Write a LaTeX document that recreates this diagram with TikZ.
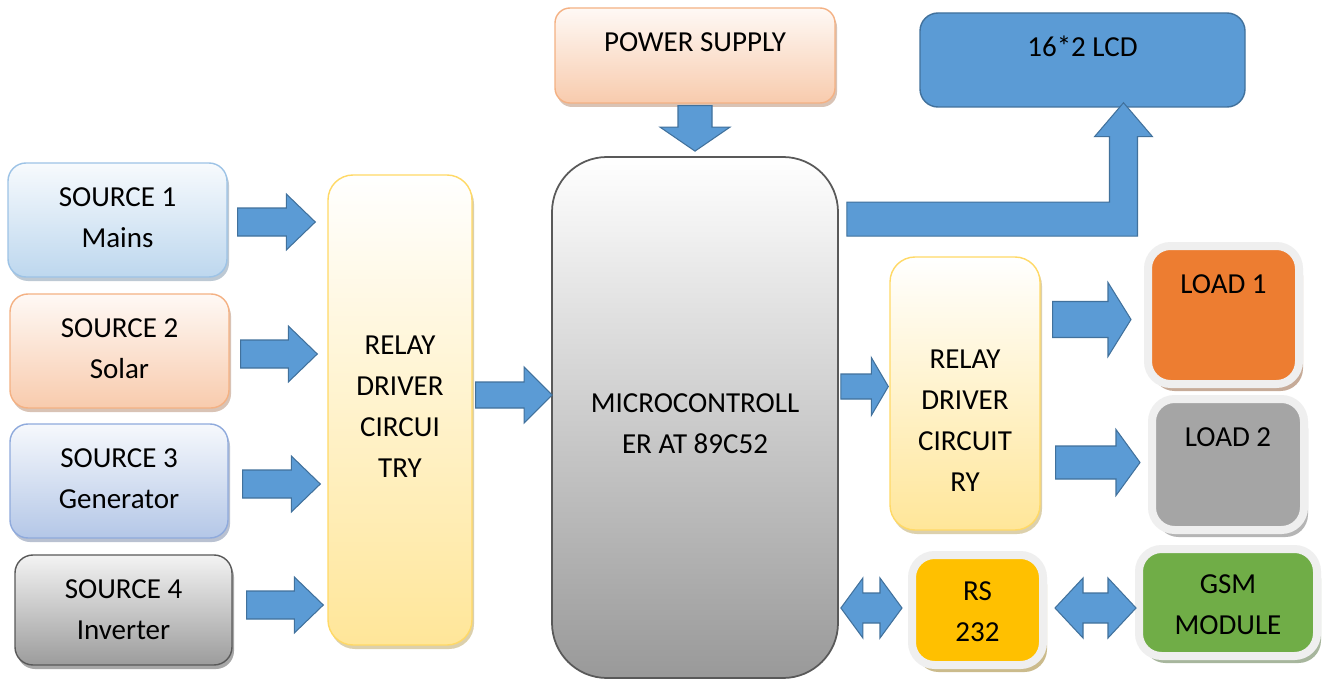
\documentclass[tikz,border=0pt]{standalone}
\usepackage{fontspec}
\setmainfont{Carlito}
\usepackage{tikz}
\usetikzlibrary{positioning, calc, fit, shadows}
\definecolor{arrowfill}{HTML}{5B9BD5}
\definecolor{arrowline}{HTML}{41719C}
\definecolor{mainsblue}{HTML}{BDD7EE}
\definecolor{mainsline}{HTML}{9DC3E6}
\definecolor{solarpeach}{HTML}{F8CBAD}
\definecolor{solarline}{HTML}{F4B183}
\definecolor{genblue}{HTML}{B4C7E7}
\definecolor{genline}{HTML}{8FAADC}
\definecolor{invgray}{HTML}{9C9C9C}
\definecolor{darkline}{HTML}{595959}
\definecolor{relayyellow}{HTML}{FFE699}
\definecolor{relayline}{HTML}{FFD966}
\definecolor{loadorange}{HTML}{ED7D31}
\definecolor{loadgray}{HTML}{A5A5A5}
\definecolor{rsgold}{HTML}{FFC000}
\definecolor{gsmgreen}{HTML}{70AD47}
\definecolor{framegray}{HTML}{EFEFEF}

\newcommand{\pxu}{0.02cm}
\newcommand{\boxfont}{\fontsize{16.5}{23.3}\selectfont}

\tikzset{
  srcbox/.style 2 args={draw=#2, line width=0.8pt, rounded corners=0.36cm, inner sep=0pt,
    top color=#1!12, bottom color=#1,
    drop shadow={shadow xshift=0.04cm, shadow yshift=-0.08cm, fill=#2!70!black, opacity=0.45}},
  relaybox/.style={draw=relayline, line width=0.8pt, rounded corners=0.5cm, inner sep=0pt,
    top color=white, bottom color=relayyellow,
    drop shadow={shadow xshift=0.04cm, shadow yshift=-0.08cm, fill=relayline!70!black, opacity=0.45}},
  mcubox/.style={draw=darkline, line width=1pt, rounded corners=1.1cm, inner sep=0pt,
    top color=white, bottom color=black!40},
  lcdbox/.style={draw=arrowline, line width=0.8pt, fill=arrowfill, rounded corners=0.36cm, inner sep=0pt},
  framebox/.style={draw=framegray, line width=0.16cm, fill=#1, rounded corners=0.45cm, inner sep=0pt,
    drop shadow={shadow xshift=0.08cm, shadow yshift=-0.14cm, fill=#1!55!black, opacity=0.45}},
  blockarrow/.style={draw=arrowline, fill=arrowfill, line width=0.6pt, line join=miter},
}

% block arrows: start, tip, body half, head half, head length (in px)
\newcommand{\blockright}[5]{%
  \draw[blockarrow] let \p1=(#1), \p2=(#2) in
    (\x1,\y1+#3*\pxu) -- (\x2-#5*\pxu,\y1+#3*\pxu) -- (\x2-#5*\pxu,\y1+#4*\pxu)
    -- (\x2,\y1) -- (\x2-#5*\pxu,\y1-#4*\pxu) -- (\x2-#5*\pxu,\y1-#3*\pxu)
    -- (\x1,\y1-#3*\pxu) -- cycle;}
\newcommand{\blockdown}[5]{%
  \draw[blockarrow] let \p1=(#1), \p2=(#2) in
    (\x1-#3*\pxu,\y1) -- (\x1-#3*\pxu,\y2+#5*\pxu) -- (\x1-#4*\pxu,\y2+#5*\pxu)
    -- (\x1,\y2) -- (\x1+#4*\pxu,\y2+#5*\pxu) -- (\x1+#3*\pxu,\y2+#5*\pxu)
    -- (\x1+#3*\pxu,\y1) -- cycle;}
\newcommand{\blockboth}[5]{%
  \draw[blockarrow] let \p1=(#1), \p2=(#2) in
    (\x1,\y1) -- (\x1+#5*\pxu,\y1+#4*\pxu) -- (\x1+#5*\pxu,\y1+#3*\pxu)
    -- (\x2-#5*\pxu,\y1+#3*\pxu) -- (\x2-#5*\pxu,\y1+#4*\pxu) -- (\x2,\y1)
    -- (\x2-#5*\pxu,\y1-#4*\pxu) -- (\x2-#5*\pxu,\y1-#3*\pxu)
    -- (\x1+#5*\pxu,\y1-#3*\pxu) -- (\x1+#5*\pxu,\y1-#4*\pxu) -- cycle;}

\begin{document}
\begin{tikzpicture}[x=0.02cm, y=-0.02cm,
    every node/.style={font=\boxfont, align=center},
  ]
  \useasboundingbox (0,0) rectangle (1322,679);
  \clip (0,0) rectangle (1322,679);
  \fill[white] (0,0) rectangle (1322,679);

  % sources
  \node[srcbox={mainsblue}{mainsline}, fit={(8,163) (227,277)}] (src1) {};
  \node[srcbox={solarpeach}{solarline}, fit={(10,294) (229,408)}] (src2) {};
  \node[srcbox={genblue}{genline}, fit={(10,424) (228,538)}] (src3) {};
  \node[srcbox={invgray}{darkline}, fit={(15,555) (232,665)}] (src4) {};
  \node (src1txt) at ($(src1.center)+(0,-2)$) {SOURCE 1\\Mains};
  \node (src2txt) at ($(src2.center)+(0,-2)$) {SOURCE 2\\Solar};
  \node (src3txt) at ($(src3.center)+(0,-2)$) {SOURCE 3\\Generator};
  \node (src4txt) at (src4.center) {SOURCE 4\\Inverter};

  % relay drivers and controller
  \node[relaybox, fit={(328,175) (472,645)}] (relay1) {};
  \node (relay1txt) at ($(relay1.center)+(0,-3)$) {RELAY\\DRIVER\\CIRCUI\\TRY};
  \node[mcubox, fit={(552,157) (838,678)}] (mcu) {};
  \node (mcutxt) at ($(mcu.center)+(0,6)$) {MICROCONTROLL\\ER AT 89C52};
  \node[relaybox, fit={(890,257) (1040,530)}] (relay2) {};
  \node (relay2txt) at ($(relay2.center)+(0,27)$) {RELAY\\DRIVER\\CIRCUIT\\RY};

  % top row
  \node[srcbox={solarpeach}{solarline}, rounded corners=0.3cm, fit={(555,8) (835,103)}] (power) {};
  \node (powertxt) at ($(power.north)+(0,35)$) {POWER SUPPLY};
  \node[lcdbox, fit={(920,13) (1245,107)}] (lcd) {};
  \node (lcdtxt) at ($(lcd.north)+(0,34)$) {16*2 LCD};

  % outputs
  \node[framebox=loadorange, fit={(1148,246) (1299,384)}] (load1) {};
  \node (load1txt) at ($(load1.north)+(0,42)$) {LOAD 1};
  \node[framebox=loadgray, fit={(1152,399) (1304,530)}] (load2) {};
  \node (load2txt) at ($(load2.north)+(0,42)$) {LOAD 2};
  \node[framebox=rsgold, fit={(912,555) (1043,665)}] (rs) {};
  \node (rstxt) at ($(rs.center)+(0,2)$) {RS\\232};
  \node[framebox=gsmgreen, fit={(1139,549) (1317,656)}] (gsm) {};
  \node (gsmtxt) at ($(gsm.center)+(0,2.5)$) {GSM\\MODULE};

  % arrows
  \foreach \i/\dy/\sx/\tx in {1/2/10/-12, 2/3/11/-10, 3/3/14/-7, 4/-5/14/-4}
    {\blockright{$(src\i.east)+(\sx,\dy)$}{$(relay1.west)+(\tx,0)$}{14}{28}{29}}
  \blockright{$(relay1.east)+(3,-15)$}{$(mcu.west)+(1,0)$}{13}{28}{28}
  \blockright{$(mcu.east)+(2,-31)$}{$(relay2.west)+(-1,0)$}{12.5}{29}{17}
  \blockright{$(relay2.east)+(12,-74)$}{$(load1.west)+(-13,0)$}{18}{37}{23}
  \blockright{$(relay2.east)+(15,69)$}{$(load2.west)+(-8,0)$}{16.5}{33}{24}
  \blockdown{$(power.south)+(0,2)$}{$(mcu.north)+(0,-5)$}{17}{35}{24}
  \blockboth{$(mcu.east |- rs.west)+(2,-2)$}{$(rs.west)+(-6,0)$}{15}{30}{22}
  \blockboth{$(rs.east)+(8,-2)$}{$(gsm.west)+(1,0)$}{15}{30}{28}
  \draw[blockarrow] let \p1=($(mcu.north east)+(8,63)$), \p2=($(lcd.south)+(41,-5)$) in
    (\x1,\y1+17*\pxu) -- (\x2-14*\pxu,\y1+17*\pxu) -- (\x2-14*\pxu,\y2-34*\pxu)
    -- (\x2-29*\pxu,\y2-34*\pxu) -- (\x2,\y2) -- (\x2+29*\pxu,\y2-34*\pxu)
    -- (\x2+14*\pxu,\y2-34*\pxu) -- (\x2+14*\pxu,\y1-17*\pxu) -- (\x1,\y1-17*\pxu) -- cycle;
\end{tikzpicture}
\end{document}
